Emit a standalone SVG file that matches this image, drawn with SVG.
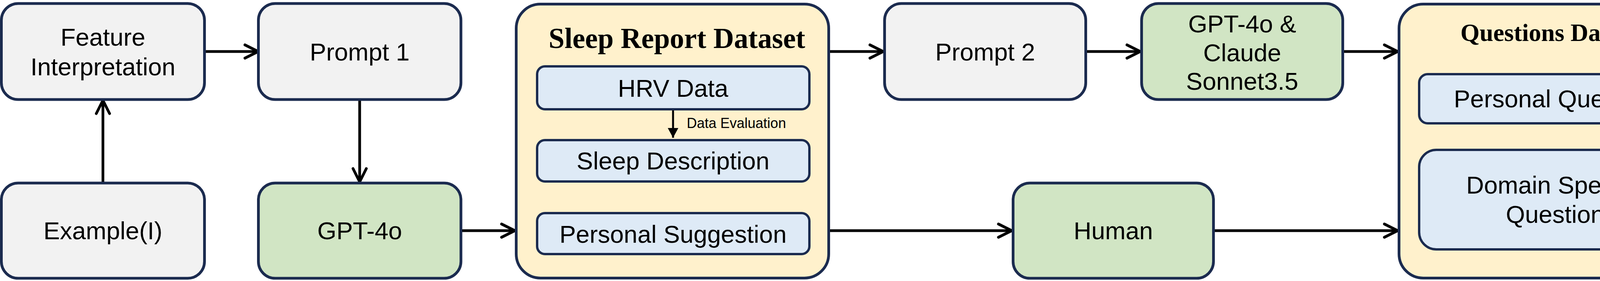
<svg xmlns="http://www.w3.org/2000/svg" width="4387" height="720" viewBox="0 0 4387 720">
<style>
.box{stroke:#1B2B4F;stroke-width:7}
.inner{stroke:#1B2B4F;stroke-width:6}
.grey{fill:#F2F2F2}
.green{fill:#D1E5C4}
.yellow{fill:#FFF1CC}
.blue{fill:#DEEAF6}
.t{font-family:"Liberation Sans",Arial,sans-serif;font-size:63px;fill:#000;text-anchor:middle}
.title{font-family:"Liberation Serif","Times New Roman",serif;font-weight:bold;fill:#000;text-anchor:middle}
.small{font-family:"Liberation Sans",Arial,sans-serif;font-size:36px;fill:#000}
.conn{stroke:#000;stroke-width:7;fill:none}
</style>
<defs>
<marker id="chev" markerUnits="userSpaceOnUse" viewBox="-45 -25 55 50" markerWidth="55" markerHeight="50" refX="-4" refY="0" orient="auto" overflow="visible">
<path d="M-34,-17 L0,0 L-34,17" fill="none" stroke="#000" stroke-width="7" stroke-linecap="round" stroke-linejoin="round"/>
</marker>
<marker id="tri" markerUnits="userSpaceOnUse" viewBox="-26 -14 28 28" markerWidth="28" markerHeight="28" refX="0" refY="0" orient="auto" overflow="visible">
<path d="M-25,-13.5 L0,0 L-25,13.5 Z" fill="#000"/>
</marker>
</defs>

<g id="connectors">
<path class="conn" d="M263.5,466 V261" marker-end="url(#chev)"/>
<path class="conn" d="M527,132 H657" marker-end="url(#chev)"/>
<path class="conn" d="M920.75,258 V462" marker-end="url(#chev)"/>
<path class="conn" d="M1183,591 H1314" marker-end="url(#chev)"/>
<path class="conn" d="M2125,132 H2257" marker-end="url(#chev)"/>
<path class="conn" d="M2783,132 H2915" marker-end="url(#chev)"/>
<path class="conn" d="M3441,132 H3574" marker-end="url(#chev)"/>
<path class="conn" d="M2125,591 H2586" marker-end="url(#chev)"/>
<path class="conn" d="M3110,591 H3574" marker-end="url(#chev)"/>
</g>

<g id="feature-interpretation">
<rect class="box grey" x="3.5" y="9" width="520" height="246" rx="43" ry="43"/>
<text class="t" x="263.5" y="117">Feature</text>
<text class="t" x="263.5" y="193">Interpretation</text>
</g>
<g id="prompt-1">
<rect class="box grey" x="661.5" y="9" width="518.5" height="246" rx="43" ry="43"/>
<text class="t" x="920.75" y="155">Prompt 1</text>
</g>
<g id="example">
<rect class="box grey" x="3.5" y="469" width="520" height="244" rx="43" ry="43"/>
<text class="t" x="263.5" y="613">Example(I)</text>
</g>
<g id="gpt-4o">
<rect class="box green" x="661.5" y="469" width="518.5" height="244" rx="43" ry="43"/>
<text class="t" x="920.75" y="613">GPT-4o</text>
</g>

<g id="sleep-report-dataset">
<rect class="box yellow" x="1321.5" y="10.5" width="800" height="702" rx="62" ry="62"/>
<text class="title" x="1733" y="123" font-size="73">Sleep Report Dataset</text>
<g id="hrv-data">
<rect class="inner blue" x="1375" y="170" width="697" height="110" rx="20" ry="20"/>
<text class="t" x="1723" y="248">HRV Data</text>
</g>
<g id="sleep-description">
<rect class="inner blue" x="1375" y="359" width="697" height="106" rx="20" ry="20"/>
<text class="t" x="1723" y="434">Sleep Description</text>
</g>
<g id="personal-suggestion">
<rect class="inner blue" x="1375" y="546" width="697" height="105" rx="20" ry="20"/>
<text class="t" x="1723" y="622">Personal Suggestion</text>
</g>
<g id="data-evaluation">
<path d="M1723,283 V353" stroke="#000" stroke-width="5" fill="none" marker-end="url(#tri)"/>
<text class="small" x="1758" y="328">Data Evaluation</text>
</g>
</g>

<g id="prompt-2">
<rect class="box grey" x="2264.5" y="9" width="515" height="246" rx="43" ry="43"/>
<text class="t" x="2522" y="155">Prompt 2</text>
</g>
<g id="gpt-4o-claude">
<rect class="box green" x="2922.5" y="9" width="515" height="246" rx="43" ry="43"/>
<text class="t" x="3180" y="83">GPT-4o &amp;</text>
<text class="t" x="3180" y="157">Claude</text>
<text class="t" x="3180" y="230">Sonnet3.5</text>
</g>
<g id="human">
<rect class="box green" x="2593.5" y="469" width="513" height="244" rx="43" ry="43"/>
<text class="t" x="2850" y="613">Human</text>
</g>

<g id="questions-dataset">
<rect class="box yellow" x="3581.5" y="10.5" width="798" height="702" rx="62" ry="62"/>
<text class="title" x="3981" y="105" font-size="63">Questions Dataset</text>
<g id="personal-question">
<rect class="inner blue" x="3633" y="190" width="696" height="126" rx="22" ry="22"/>
<text class="t" x="3981" y="275">Personal Question</text>
</g>
<g id="domain-specific-question">
<rect class="inner blue" x="3633" y="384" width="696" height="255" rx="44" ry="44"/>
<text class="t" x="3981" y="496">Domain Specific</text>
<text class="t" x="3981" y="571">Question</text>
</g>
</g>
</svg>
